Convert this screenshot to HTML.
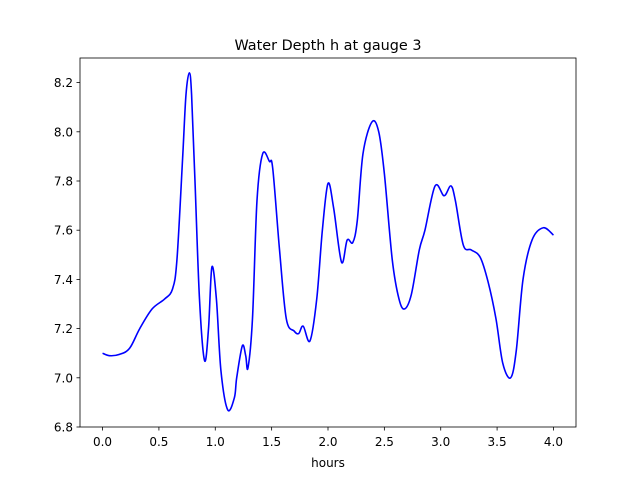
<!DOCTYPE html>
<html><head><meta charset="utf-8"><style>
body{margin:0;background:#fff;}
svg text{font-family:"DejaVu Sans","Liberation Sans",sans-serif;fill:#000;}
</style></head><body>
<svg width="640" height="480" viewBox="0 0 640 480">
<rect width="640" height="480" fill="#fff"/>
<text x="328" y="50" font-size="14.4" text-anchor="middle">Water Depth h at gauge 3</text>
<g id="xt"></g>
<g id="yt"></g>
<path id="line" fill="none" stroke="#0000ff" stroke-width="1.6"/>
<rect x="80" y="58" width="496" height="369" fill="none" stroke="#000" stroke-width="0.8"/>
<text x="328" y="467" font-size="12" text-anchor="middle">hours</text>
</svg>
<script>
const hours=[0,0.06,0.15,0.24,0.33,0.44,0.55,0.62,0.66,0.71,0.74,0.77,0.79,0.82,0.86,0.905,0.94,0.97,1.01,1.05,1.11,1.17,1.19,1.24,1.27,1.29,1.33,1.37,1.42,1.48,1.51,1.57,1.63,1.70,1.74,1.78,1.84,1.90,1.95,2.0,2.05,2.12,2.17,2.22,2.26,2.31,2.39,2.45,2.50,2.57,2.63,2.68,2.74,2.81,2.86,2.95,3.03,3.09,3.13,3.20,3.27,3.35,3.42,3.49,3.55,3.62,3.67,3.73,3.81,3.91,4.0];
const depth=[7.10,7.09,7.095,7.12,7.2,7.28,7.32,7.36,7.48,7.89,8.15,8.24,8.15,7.8,7.32,7.07,7.2,7.45,7.32,7.03,6.87,6.92,7.0,7.13,7.09,7.04,7.24,7.72,7.91,7.88,7.85,7.52,7.24,7.19,7.18,7.21,7.15,7.32,7.6,7.79,7.69,7.47,7.56,7.55,7.64,7.91,8.04,8.0,7.83,7.48,7.32,7.28,7.34,7.52,7.6,7.78,7.74,7.78,7.72,7.54,7.52,7.49,7.39,7.24,7.06,7.0,7.11,7.4,7.56,7.61,7.58];
const xTicks=[0,0.5,1,1.5,2,2.5,3,3.5,4];
const xTickLabels=["0.0","0.5","1.0","1.5","2.0","2.5","3.0","3.5","4.0"];
const yTicks=[6.8,7.0,7.2,7.4,7.6,7.8,8.0,8.2];
const yTickLabels=["6.8","7.0","7.2","7.4","7.6","7.8","8.0","8.2"];
const NS="http://www.w3.org/2000/svg";
const X=v=>80+(v+0.2)/4.4*496;
const Y=v=>427-(v-6.8)/1.5*369;
const xt=document.getElementById('xt'),yt=document.getElementById('yt');
xTicks.forEach((t,i)=>{
 const l=document.createElementNS(NS,'line');
 
 
 l.setAttribute('x1',X(t));l.setAttribute('x2',X(t));l.setAttribute('y1',427);l.setAttribute('y2',430.5);l.setAttribute('stroke','#000');l.setAttribute('stroke-width','0.8');
 xt.appendChild(l);
 const s=document.createElementNS(NS,'text');
 
 
 s.setAttribute('x',X(t));s.setAttribute('y',446);s.setAttribute('font-size','12');s.setAttribute('text-anchor','middle');
 s.textContent=xTickLabels[i];xt.appendChild(s);
});
yTicks.forEach((t,i)=>{
 const l=document.createElementNS(NS,'line');
 
 
 l.setAttribute('x1',76.5);l.setAttribute('x2',80);l.setAttribute('y1',Y(t));l.setAttribute('y2',Y(t));l.setAttribute('stroke','#000');l.setAttribute('stroke-width','0.8');
 yt.appendChild(l);
 const s=document.createElementNS(NS,'text');
 
 
 s.setAttribute('x',73);s.setAttribute('y',Y(t)+4.5);s.setAttribute('font-size','12');s.setAttribute('text-anchor','end');
 s.textContent=yTickLabels[i];yt.appendChild(s);
});
const pts=hours.map((h,i)=>[X(h),Y(depth[i])]);
let d='M'+pts[0][0]+','+pts[0][1];
for(let i=0;i<pts.length-1;i++){
 const p0=pts[Math.max(0,i-1)],p1=pts[i],p2=pts[i+1],p3=pts[Math.min(pts.length-1,i+2)];
 const t=1/6;
 d+=' C'+(p1[0]+(p2[0]-p0[0])*t)+','+(p1[1]+(p2[1]-p0[1])*t)+' '+(p2[0]-(p3[0]-p1[0])*t)+','+(p2[1]-(p3[1]-p1[1])*t)+' '+p2[0]+','+p2[1];
}
document.getElementById('line').setAttribute('d',d);
</script>
</body></html>
